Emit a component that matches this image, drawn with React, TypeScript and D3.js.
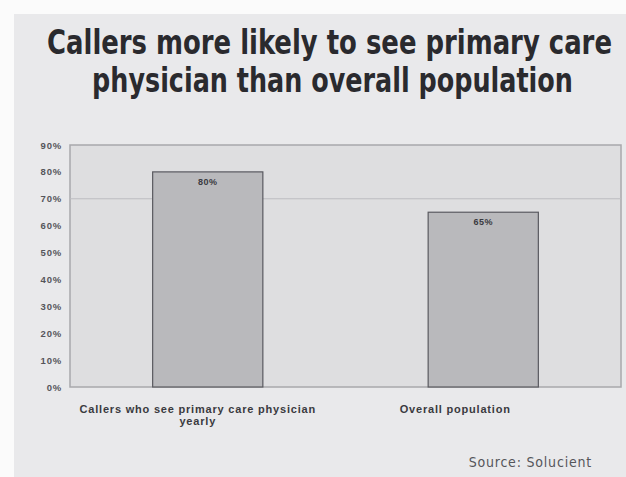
import React, { useLayoutEffect, useRef, useState } from "react";
import * as d3 from "d3";

const categories = ["Callers who see primary care physician yearly", "Overall population"];
const categoryLines = [["Callers who see primary care physician", "yearly"], ["Overall population"]];
const values = [80, 65];
const valueLabels = ["80%", "65%"];
const yTicks = [0, 10, 20, 30, 40, 50, 60, 70, 80, 90];
const titleLines = ["Callers more likely to see primary care", "physician than overall population"];
const sourceText = "Source:  Solucient";

const W = 626;
const H = 477;
const plot = { left: 70, right: 621, top: 145, bottom: 387 };
const labelShift = [-10, -28];
const titleLayout = [
  { cx: 329.5, y: 54, w: 565 },
  { cx: 332.5, y: 92, w: 481 },
];

function FitText({ text, cx, y, w }: { text: string; cx: number; y: number; w: number }) {
  const ref = useRef<SVGTextElement>(null);
  const [s, setS] = useState(1);
  useLayoutEffect(() => {
    if (ref.current) {
      const bw = ref.current.getBBox().width;
      if (bw > 0) setS(w / bw);
    }
  }, [text, w]);
  return (
    <text
      ref={ref}
      transform={`translate(${cx},${y}) scale(${s},1)`}
      textAnchor="middle"
      fontFamily="'DejaVu Sans Condensed', 'Liberation Sans Narrow', sans-serif"
      fontWeight="bold"
      fontSize={34}
      fill="#2a2a2e"
    >
      {text}
    </text>
  );
}

export default function App() {
  const x = d3
    .scaleBand<string>()
    .domain(categories)
    .range([plot.left, plot.right])
    .paddingInner(0.6)
    .paddingOuter(0.3);
  const y = d3.scaleLinear().domain([0, 90]).range([plot.bottom, plot.top]);

  return (
    <svg
      width={W}
      height={H}
      style={{ position: "fixed", left: 0, top: 0 }}
      xmlns="http://www.w3.org/2000/svg"
    >
      <rect x={0} y={0} width={W} height={H} fill="#fbfbfb" />
      <rect x={14} y={14} width={W - 14} height={H - 14} fill="#e9e9eb" />
      {titleLines.map((t, i) => (
        <FitText key={i} text={t} cx={titleLayout[i].cx} y={titleLayout[i].y} w={titleLayout[i].w} />
      ))}
      <rect
        x={plot.left}
        y={plot.top}
        width={plot.right - plot.left}
        height={plot.bottom - plot.top}
        fill="#dedee0"
        stroke="#a8a8ac"
        strokeWidth={1.5}
      />
      <line
        x1={plot.left}
        x2={plot.right}
        y1={y(70)}
        y2={y(70)}
        stroke="#bcbcc0"
        strokeWidth={1}
      />
      {yTicks.map((t) => (
        <text
          key={t}
          x={62}
          y={y(t) + 3.5}
          textAnchor="end"
          fontFamily="'Liberation Sans', Arial, sans-serif"
          fontWeight="bold"
          fontSize={9.5}
          letterSpacing={0.8}
          fill="#55555a"
        >
          {t}%
        </text>
      ))}
      {categories.map((c, i) => (
        <g key={c}>
          <rect
            x={x(c)!}
            y={y(values[i])}
            width={x.bandwidth()}
            height={y(0) - y(values[i])}
            fill="#b9b9bc"
            stroke="#5a5a60"
            strokeWidth={1.2}
          />
          <text
            x={x(c)! + x.bandwidth() / 2}
            y={y(values[i]) + 13}
            textAnchor="middle"
            fontFamily="'Liberation Sans', Arial, sans-serif"
            fontWeight="bold"
            fontSize={9}
            letterSpacing={0.5}
            fill="#3a3a40"
          >
            {valueLabels[i]}
          </text>
          {categoryLines[i].map((ln, j) => (
            <text
              key={j}
              x={x(c)! + x.bandwidth() / 2 + labelShift[i]}
              y={413 + j * 12}
              textAnchor="middle"
              fontFamily="'Liberation Sans', Arial, sans-serif"
              fontWeight="bold"
              fontSize={11}
              letterSpacing={0.8}
              fill="#3a3a40"
            >
              {ln}
            </text>
          ))}
        </g>
      ))}
      <text
        x={592}
        y={467}
        textAnchor="end"
        fontFamily="'DejaVu Sans Condensed', 'Liberation Sans Narrow', sans-serif"
        fontSize={14}
        letterSpacing={0.8}
        fill="#55555a"
      >
        {sourceText}
      </text>
    </svg>
  );
}
